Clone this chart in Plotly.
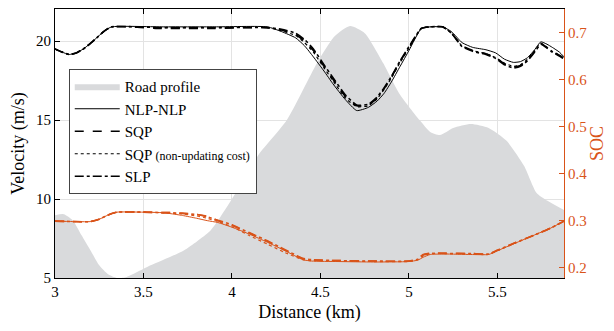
import plotly.graph_objects as go

# ---------------- data ----------------
road_x = [3.0, 3.05, 3.1, 3.15, 3.2, 3.25, 3.3, 3.35, 3.4, 3.54, 3.73, 3.88, 3.96, 4.03, 4.15, 4.31,
          4.48, 4.58, 4.667, 4.75, 4.855, 4.95, 5.06, 5.12, 5.175, 5.25, 5.35, 5.45, 5.55, 5.65,
          5.72, 5.78, 5.876]
road_v = [8.98, 9.04, 8.66, 7.7, 6.76, 5.8, 5.23, 5.0, 5.04, 5.8, 6.76, 8.03, 9.3, 10.56, 12.8, 15.0,
          18.6, 20.3, 20.95, 20.5, 18.6, 16.6, 15.0, 14.25, 14.05, 14.5, 14.75, 14.5, 13.7, 12.1,
          10.4, 9.9, 9.3]

vel_x = [3.0, 3.04, 3.08, 3.12, 3.16, 3.2, 3.245, 3.28, 3.32, 3.6, 3.9, 4.2, 4.28, 4.36, 4.41,
         4.46, 4.52, 4.57, 4.64, 4.705, 4.77, 4.82, 4.86, 4.9, 4.95, 5.0, 5.07, 5.12, 5.19, 5.24,
         5.3, 5.36, 5.435, 5.49, 5.54, 5.59, 5.63, 5.67, 5.71, 5.745, 5.78, 5.81, 5.85, 5.876]
vel_nlp = [19.5, 19.3, 19.15, 19.25, 19.5, 19.85, 20.3, 20.65, 20.9, 20.9, 20.9, 20.9, 20.6, 20.2,
           19.7, 19.0, 18.1, 17.3, 16.3, 15.6, 15.8, 16.2, 16.7, 17.4, 18.4, 19.4, 20.8, 20.9, 20.9,
           20.6, 19.9, 19.6, 19.45, 19.25, 18.85, 18.65, 18.7, 18.95, 19.45, 19.95, 19.8, 19.6, 19.3, 19.0]
vel_sqp = [19.5, 19.3, 19.15, 19.25, 19.5, 19.85, 20.3, 20.65, 20.9, 20.8, 20.8, 20.85, 20.7, 20.4,
           20.0, 19.4, 18.4, 17.6, 16.5, 15.9, 15.95, 16.4, 17.0, 17.7, 18.7, 19.6, 20.8, 20.9, 20.9,
           20.5, 19.7, 19.4, 19.2, 18.95, 18.55, 18.35, 18.45, 18.8, 19.35, 19.85, 19.6, 19.35, 19.1, 18.9]
vel_sqp_nu = [19.5, 19.3, 19.15, 19.25, 19.5, 19.85, 20.3, 20.65, 20.9, 20.85, 20.85, 20.85, 20.65, 20.35,
              19.9, 19.3, 18.3, 17.5, 16.4, 15.85, 15.9, 16.35, 16.95, 17.65, 18.65, 19.55, 20.8, 20.9, 20.9,
              20.5, 19.7, 19.4, 19.2, 18.95, 18.6, 18.4, 18.5, 18.85, 19.4, 19.85, 19.6, 19.35, 19.1, 18.9]
vel_slp = [19.5, 19.3, 19.15, 19.25, 19.5, 19.85, 20.3, 20.65, 20.9, 20.85, 20.85, 20.85, 20.75, 20.5,
           20.1, 19.5, 18.5, 17.7, 16.6, 15.95, 16.0, 16.45, 17.05, 17.75, 18.75, 19.65, 20.8, 20.9, 20.9,
           20.5, 19.65, 19.35, 19.15, 18.9, 18.5, 18.3, 18.4, 18.75, 19.3, 19.8, 19.55, 19.3, 19.05, 18.85]

soc_x = [3.0, 3.1, 3.2, 3.25, 3.3, 3.35, 3.5, 3.6, 3.65, 3.72, 3.8, 3.86, 3.92, 4.0, 4.1, 4.2, 4.3,
         4.4, 4.45, 4.6, 4.8, 5.0, 5.05, 5.08, 5.12, 5.2, 5.35, 5.45, 5.5, 5.6, 5.7, 5.8, 5.876]
soc_nlp = [0.299, 0.298, 0.298, 0.303, 0.312, 0.318, 0.318, 0.317, 0.315, 0.311, 0.305, 0.300, 0.296,
           0.286, 0.271, 0.254, 0.236, 0.217, 0.214, 0.213, 0.212, 0.213, 0.216, 0.222, 0.228, 0.229,
           0.228, 0.228, 0.236, 0.252, 0.268, 0.284, 0.299]
soc_sqp = [0.299, 0.298, 0.298, 0.303, 0.312, 0.318, 0.318, 0.317, 0.317, 0.316, 0.313, 0.309, 0.300,
           0.290, 0.273, 0.256, 0.237, 0.219, 0.216, 0.215, 0.214, 0.214, 0.219, 0.228, 0.231, 0.231,
           0.230, 0.229, 0.237, 0.253, 0.268, 0.284, 0.299]
soc_sqp_nu = [0.299, 0.298, 0.298, 0.303, 0.312, 0.318, 0.318, 0.317, 0.316, 0.314, 0.310, 0.305, 0.298,
              0.287, 0.268, 0.250, 0.232, 0.217, 0.215, 0.214, 0.213, 0.213, 0.217, 0.225, 0.230, 0.230,
              0.229, 0.228, 0.236, 0.252, 0.268, 0.284, 0.299]
soc_slp = [0.299, 0.298, 0.298, 0.303, 0.312, 0.318, 0.318, 0.317, 0.317, 0.315, 0.313, 0.308, 0.301,
           0.291, 0.274, 0.257, 0.238, 0.220, 0.217, 0.215, 0.214, 0.214, 0.218, 0.227, 0.230, 0.230,
           0.230, 0.229, 0.237, 0.253, 0.268, 0.284, 0.299]

x_ticks = [3, 3.5, 4, 4.5, 5, 5.5]
x_ticktext = ["3", "3.5", "4", "4.5", "5", "5.5"]
v_ticks = [5, 10, 15, 20]
soc_ticks = [0.2, 0.3, 0.4, 0.5, 0.6, 0.7]
soc_ticktext = ["0.2", "0.3", "0.4", "0.5", "0.6", "0.7"]

# ---------------- styles ----------------
ORANGE = "#D95319"
GRAY = "#D9DADC"
FONT = "Times New Roman, Liberation Serif, Times, serif"

fig = go.Figure()

fig.add_trace(go.Scatter(x=road_x, y=road_v, mode="lines", fill="tozeroy",
                         fillcolor=GRAY, line=dict(width=0, color=GRAY, shape="spline", smoothing=0.6),
                         name="Road profile", yaxis="y"))

series = [
    ("NLP-NLP", vel_nlp, soc_nlp, "solid", 1.0),
    ("SQP", vel_sqp, soc_sqp, "dash", 1.6),
    ("SQP <span style='font-size:12px'>(non-updating cost)</span>", vel_sqp_nu, soc_sqp_nu, "dot", 1.2),
    ("SLP", vel_slp, soc_slp, "dashdot", 1.6),
]
for name, v, s, dash, w in series:
    fig.add_trace(go.Scatter(x=vel_x, y=v, mode="lines", name=name,
                             line=dict(color="black", width=w, dash=dash, shape="spline", smoothing=0.5),
                             yaxis="y"))
for name, v, s, dash, w in series:
    fig.add_trace(go.Scatter(x=soc_x, y=s, mode="lines", showlegend=False,
                             line=dict(color=ORANGE, width=w, dash=dash, shape="spline", smoothing=0.5),
                             yaxis="y2"))

fig.update_layout(
    width=614, height=331,
    margin=dict(l=55, r=50, t=9, b=53),
    paper_bgcolor="white", plot_bgcolor="white",
    font=dict(family=FONT, size=15, color="black"),
    showlegend=True,
    legend=dict(x=0.027, y=0.777, xanchor="left", yanchor="top",
                bgcolor="white", bordercolor="#444", borderwidth=1,
                font=dict(family=FONT, size=15), itemwidth=45,
                tracegroupgap=0),
    xaxis=dict(range=[3, 5.876], tickvals=x_ticks, ticktext=x_ticktext, automargin=False,
               ticks="inside", ticklen=5, tickcolor="black",
               showline=True, linecolor="black", linewidth=1, mirror="ticks",
               showgrid=True, gridcolor="#E3E3E3", gridwidth=1, zeroline=False,
               title=dict(text="Distance (km)", standoff=6),
               tickfont=dict(size=15)),
    yaxis=dict(range=[5, 22.03], tickvals=v_ticks, ticks="inside", ticklen=5, tickcolor="black",
               showline=True, linecolor="black", linewidth=1, automargin=False,
               showgrid=True, gridcolor="#E3E3E3", gridwidth=1, zeroline=False,
               title=dict(text="Velocity (m/s)", standoff=6),
               tickfont=dict(size=15)),
    yaxis2=dict(range=[0.178, 0.75], tickvals=soc_ticks, ticktext=soc_ticktext,
                overlaying="y", side="right", automargin=False,
                ticks="inside", ticklen=5, tickcolor=ORANGE,
                showline=True, linecolor=ORANGE, linewidth=1,
                showgrid=False, zeroline=False,
                title=dict(text="SOC", font=dict(color=ORANGE), standoff=4),
                tickfont=dict(size=15, color=ORANGE)),
)

fig.write_html("out.html", config={"displayModeBar": False},
               post_script="document.body.style.margin='0';document.body.style.overflow='hidden';")
